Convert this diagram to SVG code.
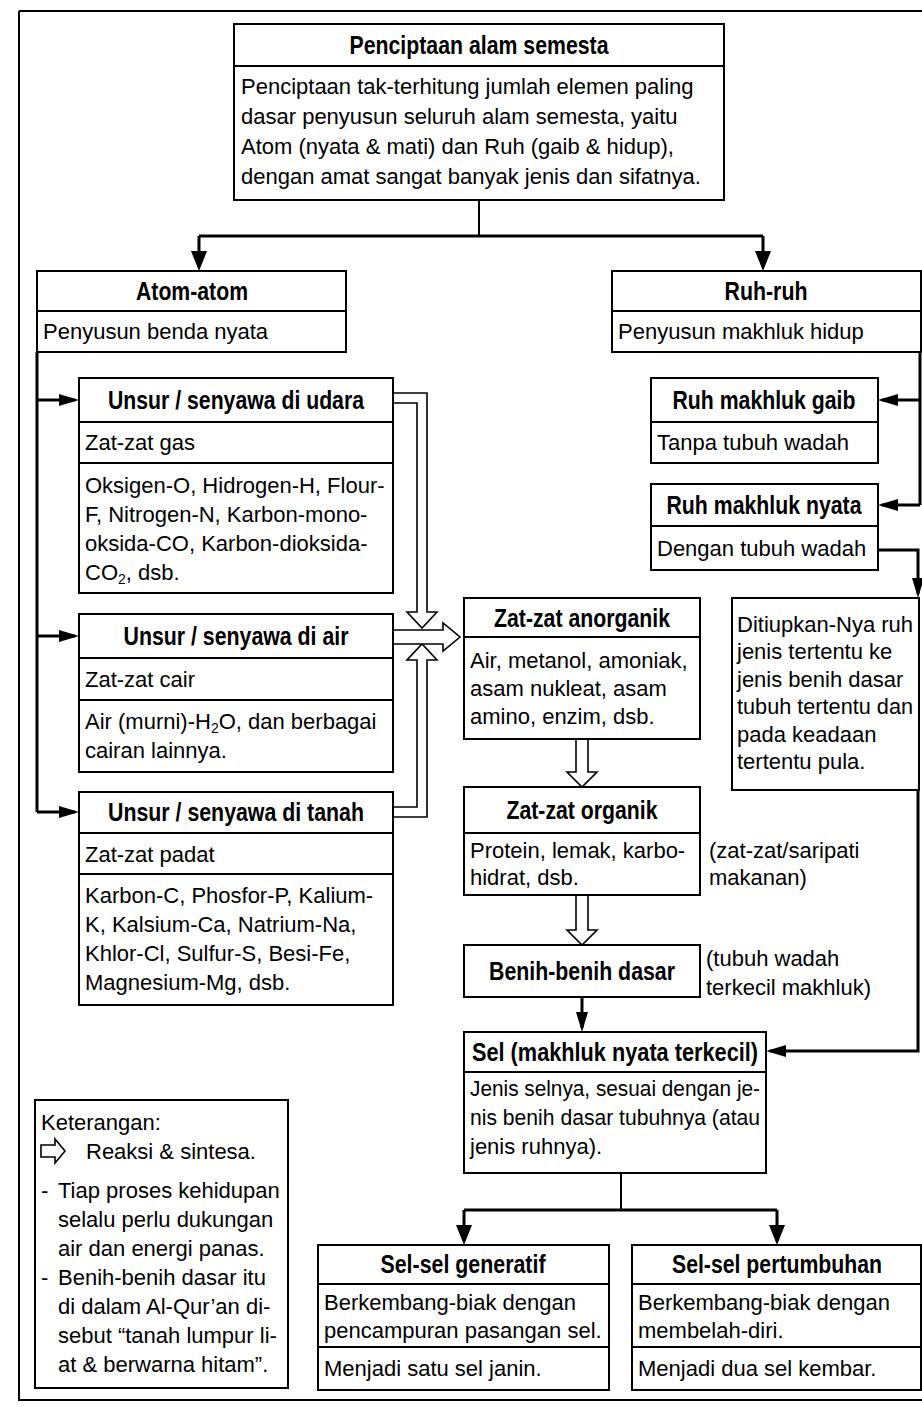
<svg xmlns="http://www.w3.org/2000/svg" width="922" height="1407" viewBox="0 0 922 1407">
<style>
  .bx{fill:#fff;stroke:#000;stroke-width:2}
  .dv{stroke:#000;stroke-width:2;fill:none}
  .h{font-family:'Liberation Sans',Arial,sans-serif;font-weight:bold;font-size:25px;text-anchor:middle;fill:#000}
  .b{font-family:'Liberation Sans',Arial,sans-serif;font-size:22px;fill:#000}
  .ln{fill:none;stroke:#000;stroke-width:3}
  .ln2{fill:none;stroke:#000;stroke-width:2}
  .hol{fill:#fff;stroke:#000;stroke-width:1.6;stroke-linejoin:miter}
  .sub{font-size:14px}
</style>
<defs>
  <marker id="ah" markerUnits="userSpaceOnUse" viewBox="0 0 20 12" markerWidth="20" markerHeight="12" refX="16" refY="6" orient="auto">
    <path d="M0,0 L20,6 L0,12 z" fill="#000"/>
  </marker>
  <marker id="ahL" markerUnits="userSpaceOnUse" viewBox="0 0 20 16" markerWidth="20" markerHeight="16" refX="16" refY="8" orient="auto">
    <path d="M0,0 L20,8 L0,16 z" fill="#000"/>
  </marker>
</defs>
<rect width="922" height="1407" fill="#fff"/>
<!-- outer frame -->
<path d="M19,11 H930 M19,11 V1400 H930" class="ln2"/>

<g id="connectors">
  <path d="M479,200 V236" class="ln2"/>
  <path d="M199,236 H763" class="ln"/>
  <path d="M199,236 V267" class="ln" marker-end="url(#ahL)"/>
  <path d="M763,236 V267" class="ln" marker-end="url(#ahL)"/>
  <!-- left spine to the three element boxes -->
  <path d="M37,352 V812" class="ln"/>
  <path d="M37,400 H75" class="ln" marker-end="url(#ah)"/>
  <path d="M37,636 H75" class="ln" marker-end="url(#ah)"/>
  <path d="M37,812 H75" class="ln" marker-end="url(#ah)"/>
  <!-- right spine to the spirit boxes -->
  <path d="M920,352 V505" class="ln"/>
  <path d="M920,400 H882" class="ln" marker-end="url(#ah)"/>
  <path d="M920,505 H882" class="ln" marker-end="url(#ah)"/>
  <path d="M878,550 H918 V594" class="ln" marker-end="url(#ah)"/>
  <path d="M918,598 V1051 H770" class="ln" marker-end="url(#ah)"/>
  <!-- seed to cell -->
  <path d="M582,997 V1028" class="ln" marker-end="url(#ah)"/>
  <!-- cell branching -->
  <path d="M621,1173 V1210" class="ln2"/>
  <path d="M464,1210 H777" class="ln"/>
  <path d="M464,1210 V1241" class="ln" marker-end="url(#ahL)"/>
  <path d="M777,1210 V1241" class="ln" marker-end="url(#ahL)"/>
  <!-- hollow reaction arrows -->
  <polygon class="hol" points="393,393 427,393 427,612 437,612 422,628 407,612 417,612 417,403 393,403"/>
  <polygon class="hol" points="393,817 427,817 427,660 437,660 422,644 407,660 417,660 417,807 393,807"/>
  <polygon class="hol" points="393,630 443,630 443,623 460,637 443,651 443,644 393,644"/>
  <polygon class="hol" points="576,739 588,739 588,772 597,772 582,787 567,772 576,772"/>
  <polygon class="hol" points="576,895 588,895 588,930 597,930 582,945 567,930 576,930"/>
</g>

<g id="n-penciptaan">
  <rect class="bx" x="234" y="24" width="490" height="176"/>
  <path class="dv" d="M234,66 H724"/>
  <text class="h" x="479" y="54" textLength="259" lengthAdjust="spacingAndGlyphs">Penciptaan alam semesta</text>
  <text class="b" x="241" y="94">Penciptaan tak-terhitung jumlah elemen paling</text>
  <text class="b" x="241" y="124">dasar penyusun seluruh alam semesta, yaitu</text>
  <text class="b" x="241" y="154">Atom (nyata  &amp; mati) dan Ruh (gaib &amp; hidup),</text>
  <text class="b" x="241" y="184">dengan amat sangat banyak jenis dan sifatnya.</text>
</g>

<g id="n-atom">
  <rect class="bx" x="37" y="271" width="309" height="81"/>
  <path class="dv" d="M37,311 H346"/>
  <text class="h" x="192" y="300" textLength="112" lengthAdjust="spacingAndGlyphs">Atom-atom</text>
  <text class="b" x="43" y="339">Penyusun benda nyata</text>
</g>

<g id="n-ruh">
  <rect class="bx" x="612" y="271" width="309" height="81"/>
  <path class="dv" d="M612,311 H921"/>
  <text class="h" x="766" y="300" textLength="83" lengthAdjust="spacingAndGlyphs">Ruh-ruh</text>
  <text class="b" x="618" y="339">Penyusun makhluk hidup</text>
</g>

<g id="n-udara">
  <rect class="bx" x="79" y="378" width="314" height="215"/>
  <path class="dv" d="M79,422 H393 M79,463 H393"/>
  <text class="h" x="236" y="409" textLength="256" lengthAdjust="spacingAndGlyphs">Unsur / senyawa di udara</text>
  <text class="b" x="85" y="450">Zat-zat gas</text>
  <text class="b" x="85" y="493">Oksigen-O, Hidrogen-H, Flour-</text>
  <text class="b" x="85" y="522">F, Nitrogen-N, Karbon-mono-</text>
  <text class="b" x="85" y="551">oksida-CO, Karbon-dioksida-</text>
  <text class="b" x="85" y="580">CO<tspan class="sub" dy="4">2</tspan><tspan dy="-4">, dsb.</tspan></text>
</g>

<g id="n-air">
  <rect class="bx" x="79" y="614" width="314" height="158"/>
  <path class="dv" d="M79,658 H393 M79,700 H393"/>
  <text class="h" x="236" y="645" textLength="225" lengthAdjust="spacingAndGlyphs">Unsur / senyawa di air</text>
  <text class="b" x="85" y="687">Zat-zat cair</text>
  <text class="b" x="85" y="729">Air (murni)-H<tspan class="sub" dy="4">2</tspan><tspan dy="-4">O, dan berbagai</tspan></text>
  <text class="b" x="85" y="758">cairan lainnya.</text>
</g>

<g id="n-tanah">
  <rect class="bx" x="79" y="792" width="314" height="213"/>
  <path class="dv" d="M79,833 H393 M79,874 H393"/>
  <text class="h" x="236" y="821" textLength="256" lengthAdjust="spacingAndGlyphs">Unsur / senyawa di tanah</text>
  <text class="b" x="85" y="862">Zat-zat padat</text>
  <text class="b" x="85" y="903">Karbon-C, Phosfor-P, Kalium-</text>
  <text class="b" x="85" y="932">K, Kalsium-Ca, Natrium-Na,</text>
  <text class="b" x="85" y="961">Khlor-Cl, Sulfur-S, Besi-Fe,</text>
  <text class="b" x="85" y="990">Magnesium-Mg, dsb.</text>
</g>

<g id="n-gaib">
  <rect class="bx" x="651" y="378" width="227" height="85"/>
  <path class="dv" d="M651,422 H878"/>
  <text class="h" x="764" y="409" textLength="183" lengthAdjust="spacingAndGlyphs">Ruh makhluk gaib</text>
  <text class="b" x="657" y="450">Tanpa tubuh wadah</text>
</g>

<g id="n-nyata">
  <rect class="bx" x="651" y="484" width="227" height="86"/>
  <path class="dv" d="M651,526 H878"/>
  <text class="h" x="764" y="514" textLength="195" lengthAdjust="spacingAndGlyphs">Ruh makhluk nyata</text>
  <text class="b" x="657" y="556">Dengan tubuh wadah</text>
</g>

<g id="n-tiupan">
  <rect class="bx" x="732" y="598" width="187" height="192"/>
  <text class="b" x="737" y="632">Ditiupkan-Nya ruh</text>
  <text class="b" x="737" y="659">jenis tertentu ke</text>
  <text class="b" x="737" y="687">jenis benih dasar</text>
  <text class="b" x="737" y="714" textLength="176" lengthAdjust="spacingAndGlyphs">tubuh tertentu dan</text>
  <text class="b" x="737" y="742">pada keadaan</text>
  <text class="b" x="737" y="769">tertentu pula.</text>
</g>

<g id="n-anorganik">
  <rect class="bx" x="464" y="598" width="236" height="141"/>
  <path class="dv" d="M464,637 H700"/>
  <text class="h" x="582" y="627" textLength="176" lengthAdjust="spacingAndGlyphs">Zat-zat anorganik</text>
  <text class="b" x="470" y="668">Air, metanol, amoniak,</text>
  <text class="b" x="470" y="696">asam nukleat, asam</text>
  <text class="b" x="470" y="724">amino, enzim, dsb.</text>
</g>

<g id="n-organik">
  <rect class="bx" x="464" y="787" width="236" height="108"/>
  <path class="dv" d="M464,833 H700"/>
  <text class="h" x="582" y="819" textLength="151" lengthAdjust="spacingAndGlyphs">Zat-zat organik</text>
  <text class="b" x="470" y="858">Protein, lemak, karbo-</text>
  <text class="b" x="470" y="885">hidrat, dsb.</text>
</g>

<g id="n-benih">
  <rect class="bx" x="464" y="945" width="236" height="52"/>
  <text class="h" x="582" y="980" textLength="186" lengthAdjust="spacingAndGlyphs">Benih-benih dasar</text>
</g>

<g id="notes">
  <text class="b" x="709" y="858">(zat-zat/saripati</text>
  <text class="b" x="709" y="885">makanan)</text>
  <text class="b" x="706" y="966">(tubuh wadah</text>
  <text class="b" x="706" y="995">terkecil makhluk)</text>
</g>

<g id="n-sel">
  <rect class="bx" x="464" y="1032" width="302" height="141"/>
  <path class="dv" d="M464,1072 H766"/>
  <text class="h" x="615" y="1061" textLength="286" lengthAdjust="spacingAndGlyphs">Sel  (makhluk nyata terkecil)</text>
  <text class="b" x="470" y="1096" textLength="290" lengthAdjust="spacingAndGlyphs">Jenis selnya, sesuai dengan je-</text>
  <text class="b" x="470" y="1125" textLength="290" lengthAdjust="spacingAndGlyphs">nis benih dasar tubuhnya (atau</text>
  <text class="b" x="470" y="1154">jenis ruhnya).</text>
</g>

<g id="n-keterangan">
  <rect class="bx" x="35" y="1100" width="253" height="288"/>
  <text class="b" x="41" y="1130">Keterangan:</text>
  <polygon class="hol" points="41,1145 55,1145 55,1139 65,1151 55,1163 55,1157 41,1157"/>
  <text class="b" x="86" y="1159">Reaksi &amp; sintesa.</text>
  <text class="b" x="41" y="1198">-</text>
  <text class="b" x="58" y="1198">Tiap proses kehidupan</text>
  <text class="b" x="58" y="1227">selalu perlu dukungan</text>
  <text class="b" x="58" y="1256">air dan energi panas.</text>
  <text class="b" x="41" y="1285">-</text>
  <text class="b" x="58" y="1285">Benih-benih dasar itu</text>
  <text class="b" x="58" y="1314">di dalam Al-Qur’an di-</text>
  <text class="b" x="58" y="1343">sebut “tanah lumpur li-</text>
  <text class="b" x="58" y="1372">at &amp; berwarna hitam”.</text>
</g>

<g id="n-generatif">
  <rect class="bx" x="318" y="1245" width="291" height="145"/>
  <path class="dv" d="M318,1284 H609 M318,1347 H609"/>
  <text class="h" x="463" y="1273" textLength="165" lengthAdjust="spacingAndGlyphs">Sel-sel generatif</text>
  <text class="b" x="324" y="1310">Berkembang-biak dengan</text>
  <text class="b" x="324" y="1338">pencampuran pasangan sel.</text>
  <text class="b" x="324" y="1376">Menjadi satu sel janin.</text>
</g>

<g id="n-pertumbuhan">
  <rect class="bx" x="632" y="1245" width="289" height="145"/>
  <path class="dv" d="M632,1284 H921 M632,1347 H921"/>
  <text class="h" x="777" y="1273" textLength="210" lengthAdjust="spacingAndGlyphs">Sel-sel pertumbuhan</text>
  <text class="b" x="638" y="1310">Berkembang-biak dengan</text>
  <text class="b" x="638" y="1338">membelah-diri.</text>
  <text class="b" x="638" y="1376">Menjadi dua sel kembar.</text>
</g>
</svg>
